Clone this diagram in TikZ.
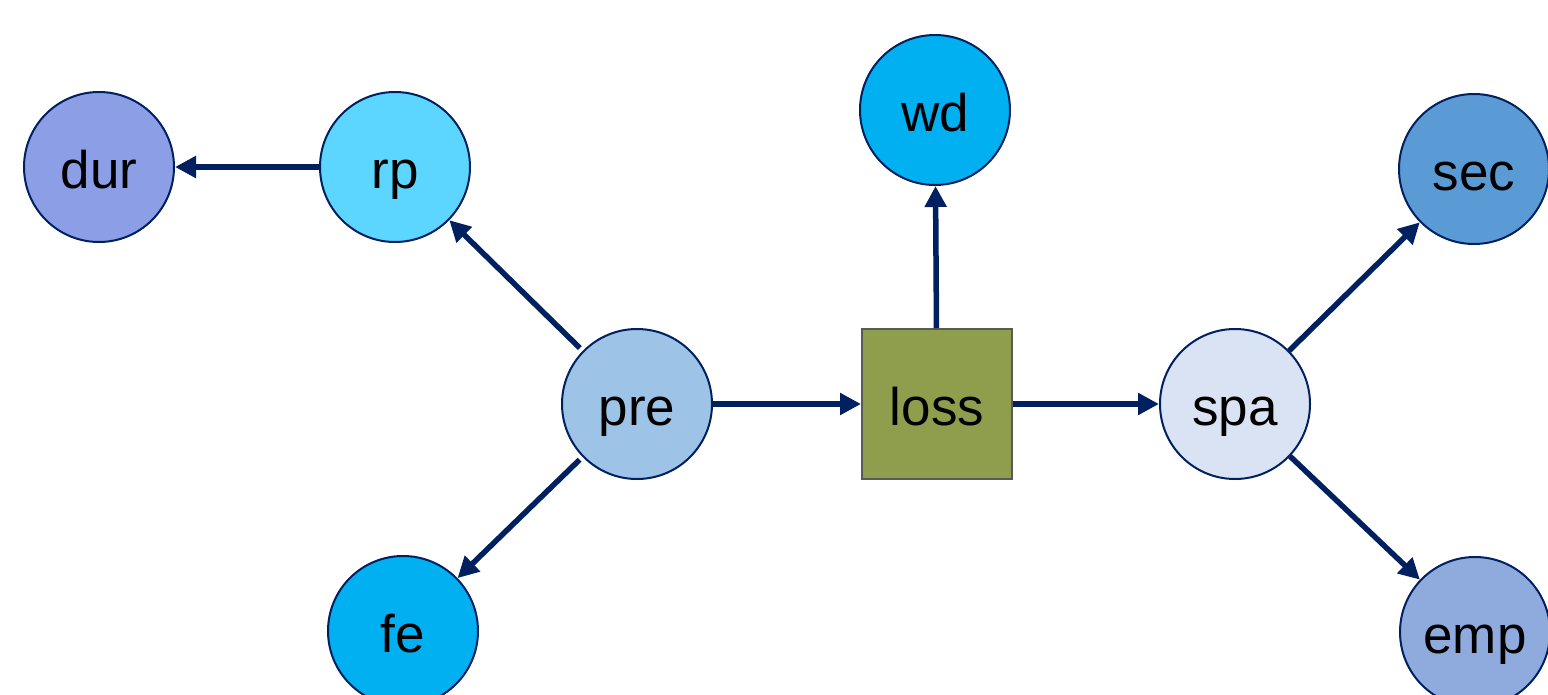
\documentclass[tikz,border=0pt]{standalone}
\usepackage{fontspec}
\setmainfont{Liberation Sans}
\usetikzlibrary{arrows.meta}
\definecolor{navy}{HTML}{002060}
\definecolor{cdur}{HTML}{8C9FE6}
\definecolor{crp}{HTML}{5CD5FF}
\definecolor{cwd}{HTML}{00B0F0}
\definecolor{csec}{HTML}{5B9BD5}
\definecolor{cpre}{HTML}{9DC3E6}
\definecolor{cspa}{HTML}{DAE3F3}
\definecolor{cemp}{HTML}{8FAADC}
\definecolor{closs}{HTML}{8F9E4C}
\definecolor{gborder}{HTML}{595959}
\begin{document}
\begin{tikzpicture}[x=1pt,y=-1pt,
  vnode/.style={circle,draw=navy,line width=2pt,minimum size=150pt,inner sep=0pt,
    text height=42pt,text depth=0pt,font=\fontsize{53}{60}\selectfont},
  boxnode/.style={rectangle,draw=gborder,line width=2pt,minimum size=150pt,inner sep=0pt,
    text height=42pt,text depth=0pt,fill=closs,font=\fontsize{53}{60}\selectfont},
  conn/.style={draw=navy,line width=5.5pt,-{Triangle[length=21pt,width=21pt]}}]
\useasboundingbox (0,0) rectangle (1548,694);
\clip (0,0) rectangle (1548,694);
\node[vnode,fill=cdur] (dur) at (99,167) {dur};
\node[vnode,fill=crp] (rp) at (395,167) {rp};
\node[vnode,fill=cwd] (wd) at (935,110) {wd};
\node[vnode,fill=csec] (sec) at (1474,169) {sec};
\node[vnode,fill=cpre] (pre) at (637,404) {pre};
\node[boxnode] (loss) at (937,404) {loss};
\node[vnode,fill=cspa] (spa) at (1235,404) {spa};
\node[vnode,fill=cwd] (fe) at (403,631) {fe};
\node[vnode,fill=cemp] (emp) at (1475,632) {emp};
\draw[conn] (rp) -- (dur);
\draw[conn,shorten <=4pt] (pre) -- (rp);
\draw[conn,shorten <=4pt] (pre) -- (fe);
\draw[conn] (pre) -- (loss);
\draw[conn] (loss) -- (wd);
\draw[conn] (loss) -- (spa);
\draw[conn] (spa) -- (sec);
\draw[conn] (spa) -- (emp);
\end{tikzpicture}
\end{document}
